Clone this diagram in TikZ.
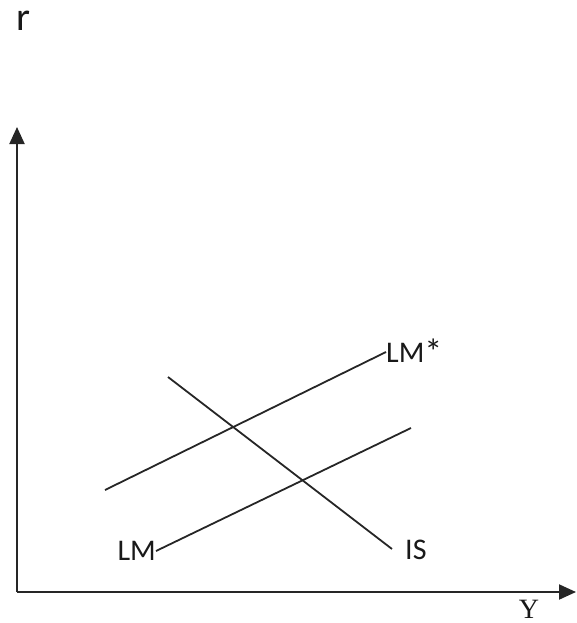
\documentclass[tikz,border=0pt]{standalone}
\usepackage{fontspec}
\setmainfont{Carlito}
\newfontfamily\serifY{Liberation Serif}
\usetikzlibrary{arrows.meta}
\begin{document}
\begin{tikzpicture}[x=1pt, y=-1pt,
        axis/.style={draw=black!85, line width=2pt, -{Triangle[length=17pt, width=15pt]}},
        curve/.style={draw=black!85, line width=1.8pt},
        lbl/.style={font=\fontsize{30}{32}\selectfont, text=black!90, inner sep=0pt}
    ]
    \useasboundingbox (0,0) rectangle (576,623);
    \coordinate (O) at (17,592);
    \coordinate (rtop) at (17,127);
    \coordinate (yend) at (576,592);
    \draw[axis] (O) -- (rtop);
    \draw[axis] (O) -- (yend);

    \node[lbl, font=\fontsize{40}{42}\selectfont] (r) at (23,21) {r};
    \node[lbl, font=\serifY\fontsize{28}{30}\selectfont] (Y) at (529,609) {Y};

    \node[lbl, anchor=west] (LMs) at (386,352) {LM{\raisebox{-2pt}{\fontsize{36}{36}\selectfont*}}};
    \node[lbl, anchor=east] (LM) at (156,551) {LM};
    \node[lbl, anchor=west] (IS) at (405,550) {IS};

    \coordinate (lms0) at (105,490);
    \coordinate (lm1) at (411,428);
    \coordinate (is0) at (168,377);
    \coordinate (is1) at (392,549);

    \draw[curve] (lms0) -- (LMs.west);
    \draw[curve] (LM.east) -- (lm1);
    \draw[curve] (is0) -- (is1);
\end{tikzpicture}
\end{document}
